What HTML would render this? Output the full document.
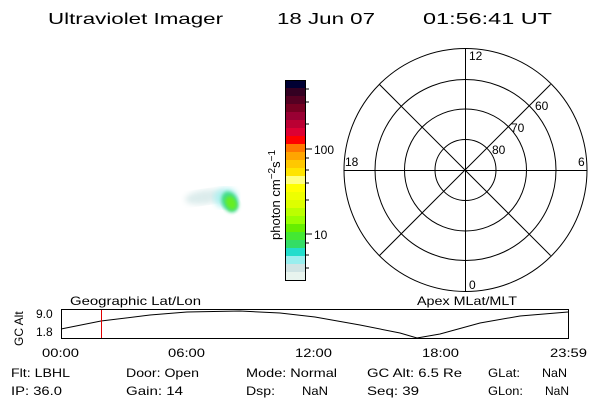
<!DOCTYPE html>
<html><head><style>
html,body{margin:0;padding:0;background:#fff;}
svg{display:block;font-family:"Liberation Sans",sans-serif;}
</style></head><body>
<svg width="600" height="400" viewBox="0 0 600 400" xmlns="http://www.w3.org/2000/svg">
<defs>
<filter id="b1"><feGaussianBlur stdDeviation="3"/></filter>
<filter id="b2"><feGaussianBlur stdDeviation="1.5"/></filter>
</defs>
<g font-size="16" fill="#000" lengthAdjust="spacingAndGlyphs">
<text x="48" y="24" textLength="175" lengthAdjust="spacingAndGlyphs">Ultraviolet Imager</text>
<text x="277" y="24" textLength="98" lengthAdjust="spacingAndGlyphs">18 Jun 07</text>
<text x="423" y="24" textLength="129" lengthAdjust="spacingAndGlyphs">01:56:41 UT</text>
</g>
<!-- aurora -->
<g>
<ellipse cx="205" cy="197" rx="20" ry="7" fill="#dcecec" filter="url(#b1)" transform="rotate(-8 205 197)"/>
<ellipse cx="226" cy="198" rx="12" ry="10" fill="#b0f0f0" filter="url(#b1)"/>
<ellipse cx="230" cy="202" rx="8" ry="11" fill="#44dd88" filter="url(#b2)" transform="rotate(-25 230 202)"/>
<ellipse cx="231" cy="203" rx="5" ry="7" fill="#66ee22" filter="url(#b2)" transform="rotate(-25 231 203)"/>
</g>
<!-- colorbar -->
<g>
<rect x="286" y="80" width="20" height="8" fill="#000033"/>
<rect x="286" y="88" width="20" height="8" fill="#330022"/>
<rect x="286" y="96" width="20" height="8" fill="#550022"/>
<rect x="286" y="104" width="20" height="8" fill="#770022"/>
<rect x="286" y="112" width="20" height="8" fill="#990033"/>
<rect x="286" y="120" width="20" height="8" fill="#bb0033"/>
<rect x="286" y="128" width="20" height="8" fill="#dd0033"/>
<rect x="286" y="136" width="20" height="8" fill="#ff0000"/>
<rect x="286" y="144" width="20" height="8" fill="#ff7700"/>
<rect x="286" y="152" width="20" height="8" fill="#ffa500"/>
<rect x="286" y="160" width="20" height="8" fill="#ffc800"/>
<rect x="286" y="168" width="20" height="8" fill="#ffe400"/>
<rect x="286" y="176" width="20" height="8" fill="#ffff80"/>
<rect x="286" y="184" width="20" height="8" fill="#ffff00"/>
<rect x="286" y="192" width="20" height="8" fill="#eeff00"/>
<rect x="286" y="200" width="20" height="8" fill="#ddff00"/>
<rect x="286" y="208" width="20" height="8" fill="#bbff00"/>
<rect x="286" y="216" width="20" height="8" fill="#99ff00"/>
<rect x="286" y="224" width="20" height="8" fill="#66ee00"/>
<rect x="286" y="232" width="20" height="8" fill="#44e833"/>
<rect x="286" y="240" width="20" height="8" fill="#33dd66"/>
<rect x="286" y="248" width="20" height="8" fill="#22ddcc"/>
<rect x="286" y="256" width="20" height="8" fill="#99eeee"/>
<rect x="286" y="264" width="20" height="8" fill="#d0e4e4"/>
<rect x="286" y="272" width="20" height="8" fill="#e8f4ee"/>
<rect x="286" y="280" width="20" height="1" fill="#fff"/>
<rect x="285.5" y="80.5" width="20" height="200" fill="none" stroke="#000"/>
<g stroke="#000">
<line x1="305" y1="149" x2="312" y2="149"/>
<line x1="305" y1="234" x2="312" y2="234"/>
<line x1="305" y1="89" x2="309" y2="89"/>
<line x1="305" y1="102" x2="309" y2="102"/>
<line x1="305" y1="124" x2="309" y2="124"/>
<line x1="305" y1="158" x2="309" y2="158"/>
<line x1="305" y1="170" x2="309" y2="170"/>
<line x1="305" y1="183" x2="309" y2="183"/>
<line x1="305" y1="200" x2="309" y2="200"/>
<line x1="305" y1="243" x2="309" y2="243"/>
<line x1="305" y1="255" x2="309" y2="255"/>
<line x1="305" y1="268" x2="309" y2="268"/>
</g>
<text x="314" y="154" font-size="12">100</text>
<text x="314" y="239" font-size="12">10</text>
<text transform="translate(280 240) rotate(-90)" font-size="13">photon cm<tspan dy="-5" font-size="10">−2</tspan><tspan dy="5">s</tspan><tspan dy="-5" font-size="10">−1</tspan></text>
</g>
<!-- polar -->
<g fill="none" stroke="#000" stroke-width="1">
<circle cx="465.5" cy="170" r="121.5"/>
<circle cx="465.5" cy="170" r="90.5"/>
<circle cx="465.5" cy="170" r="61"/>
<circle cx="465.5" cy="170" r="30.5"/>
<line x1="465.5" y1="49" x2="465.5" y2="291"/>
<line x1="344" y1="170.5" x2="587" y2="170.5"/>
<line x1="379.4" y1="84.4" x2="550.6" y2="255.6"/>
<line x1="550.6" y1="84.4" x2="379.4" y2="255.6"/>
</g>
<g font-size="12" fill="#000">
<text x="469" y="60">12</text>
<text x="469" y="289">0</text>
<text x="345" y="166">18</text>
<text x="578" y="166">6</text>
<text x="535" y="110">60</text>
<text x="511" y="132">70</text>
<text x="492" y="154">80</text>
</g>
<!-- bottom panel -->
<g font-size="12" fill="#000">
<text x="70" y="305" textLength="131" lengthAdjust="spacingAndGlyphs">Geographic Lat/Lon</text>
<text x="417" y="305" textLength="100" lengthAdjust="spacingAndGlyphs">Apex MLat/MLT</text>
<text x="36" y="318">9.0</text>
<text x="36" y="336">1.8</text>
<text transform="translate(23 346) rotate(-90)">GC Alt</text>
</g>
<rect x="61.5" y="309.5" width="507" height="29" fill="none" stroke="#000"/>
<polyline fill="none" stroke="#000" points="61,329 101,321 150,315 187,312 240,311 280,313 315,317 360,325 400,333 417,338 440,334 480,323 520,316 568,312"/>
<line x1="101.5" y1="310" x2="101.5" y2="338" stroke="#e00000"/>
<g font-size="12" fill="#000">
<text x="42" y="357" textLength="37" lengthAdjust="spacingAndGlyphs">00:00</text>
<text x="168" y="357" textLength="37" lengthAdjust="spacingAndGlyphs">06:00</text>
<text x="295" y="357" textLength="37" lengthAdjust="spacingAndGlyphs">12:00</text>
<text x="422" y="357" textLength="37" lengthAdjust="spacingAndGlyphs">18:00</text>
<text x="550" y="357" textLength="37" lengthAdjust="spacingAndGlyphs">23:59</text>
</g>
<g font-size="12" fill="#000">
<text x="11" y="377" textLength="59" lengthAdjust="spacingAndGlyphs">Flt: LBHL</text>
<text x="126" y="377" textLength="73" lengthAdjust="spacingAndGlyphs">Door: Open</text>
<text x="246" y="377" textLength="91" lengthAdjust="spacingAndGlyphs">Mode: Normal</text>
<text x="367" y="377" textLength="95" lengthAdjust="spacingAndGlyphs">GC Alt: 6.5 Re</text>
<text x="488" y="377" textLength="32" lengthAdjust="spacingAndGlyphs">GLat:</text>
<text x="542" y="377" textLength="25" lengthAdjust="spacingAndGlyphs">NaN</text>
<text x="11" y="395" textLength="51" lengthAdjust="spacingAndGlyphs">IP: 36.0</text>
<text x="126" y="395" textLength="57" lengthAdjust="spacingAndGlyphs">Gain: 14</text>
<text x="246" y="395" textLength="29" lengthAdjust="spacingAndGlyphs">Dsp:</text>
<text x="302" y="395" textLength="26" lengthAdjust="spacingAndGlyphs">NaN</text>
<text x="367" y="395" textLength="52" lengthAdjust="spacingAndGlyphs">Seq: 39</text>
<text x="488" y="395" textLength="35" lengthAdjust="spacingAndGlyphs">GLon:</text>
<text x="545" y="395" textLength="24" lengthAdjust="spacingAndGlyphs">NaN</text>
</g>
</svg>
</body></html>
